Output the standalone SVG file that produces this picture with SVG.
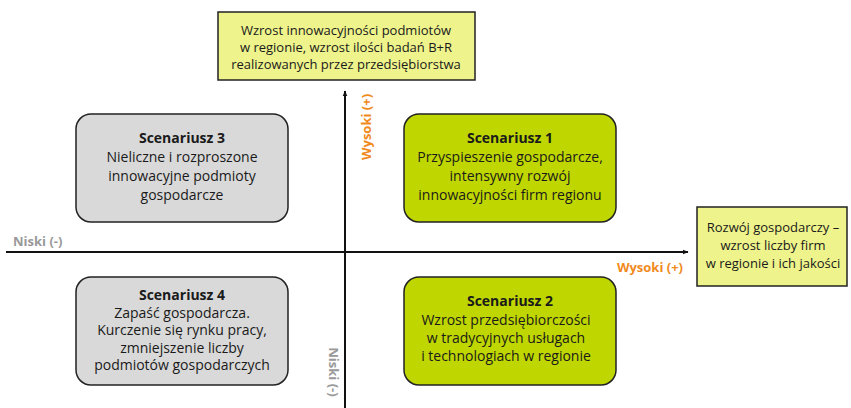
<svg xmlns="http://www.w3.org/2000/svg" width="851" height="408" viewBox="0 0 851 408">
<style>
text{font-family:"Open Sans","Liberation Sans",sans-serif;font-size:13px;fill:#1a1a1a}
.c{text-anchor:middle}
.s{font-size:14px}
.b{font-weight:bold}
.box{stroke:#222;stroke-width:1.5}
.yel{fill:#eef38c}
.grey{fill:#d9d9d9}
.green{fill:#bfd600}
.ax{stroke:#111;stroke-width:2;fill:none}
.or{fill:#f08a1c;font-weight:bold;font-size:13px}
.gr{fill:#999;font-weight:bold;font-size:13px}
</style>
<defs>
<marker id="ah" viewBox="0 0 10 10" refX="9" refY="5" markerWidth="6" markerHeight="6" orient="auto" markerUnits="userSpaceOnUse">
<path d="M0,1 L10,5 L0,9 z" fill="#111"/>
</marker>
</defs>
<g id="connectors">
<line class="ax" x1="6" y1="252" x2="688" y2="252" marker-end="url(#ah)"/>
<line class="ax" x1="345" y1="408" x2="345" y2="91" marker-end="url(#ah)"/>
</g>
<g id="axis-labels">
<text class="gr" x="13" y="246">Niski (-)</text>
<text class="or" x="683" y="272" text-anchor="end">Wysoki (+)</text>
<text class="or" transform="translate(371,127) rotate(-90)" text-anchor="middle">Wysoki (+)</text>
<text class="gr" transform="translate(329,372) rotate(90)" text-anchor="middle">Niski (-)</text>
</g>
<g id="top">
<rect class="box yel" x="218" y="12" width="257" height="68"/>
<text class="c" x="346" y="35">Wzrost innowacyjności podmiotów</text>
<text class="c" x="346" y="52">w regionie, wzrost ilości badań B+R</text>
<text class="c" x="346" y="69">realizowanych przez przedsiębiorstwa</text>
</g>
<g id="right">
<rect class="box yel" x="697" y="207" width="150" height="79"/>
<text class="c" x="773" y="232">Rozwój gospodarczy –</text>
<text class="c" x="773" y="250">wzrost liczby firm</text>
<text class="c" x="773" y="268">w regionie i ich jakości</text>
</g>
<g id="s3">
<rect class="box grey" x="76" y="114" width="212" height="108" rx="15"/>
<text class="c b s" x="182" y="143">Scenariusz 3</text>
<text class="c s" x="182" y="162">Nieliczne i rozproszone</text>
<text class="c s" x="182" y="181">innowacyjne podmioty</text>
<text class="c s" x="182" y="200">gospodarcze</text>
</g>
<g id="s1">
<rect class="box green" x="404" y="114" width="212" height="108" rx="15"/>
<text class="c b s" x="510" y="143">Scenariusz 1</text>
<text class="c s" x="510" y="162">Przyspieszenie gospodarcze,</text>
<text class="c s" x="510" y="181">intensywny rozwój</text>
<text class="c s" x="510" y="200">innowacyjności firm regionu</text>
</g>
<g id="s4">
<rect class="box grey" x="76" y="277" width="212" height="108" rx="15"/>
<text class="c b s" x="182" y="300">Scenariusz 4</text>
<text class="c s" x="182" y="317.5">Zapaść gospodarcza.</text>
<text class="c s" x="182" y="335">Kurczenie się rynku pracy,</text>
<text class="c s" x="182" y="352.5">zmniejszenie liczby</text>
<text class="c s" x="182" y="370">podmiotów gospodarczych</text>
</g>
<g id="s2">
<rect class="box green" x="404" y="277" width="212" height="108" rx="15"/>
<text class="c b s" x="510" y="306">Scenariusz 2</text>
<text class="c s" x="506" y="325">Wzrost przedsiębiorczości</text>
<text class="c s" x="506" y="343">w tradycyjnych usługach</text>
<text class="c s" x="506" y="361">i technologiach w regionie</text>
</g>
</svg>
